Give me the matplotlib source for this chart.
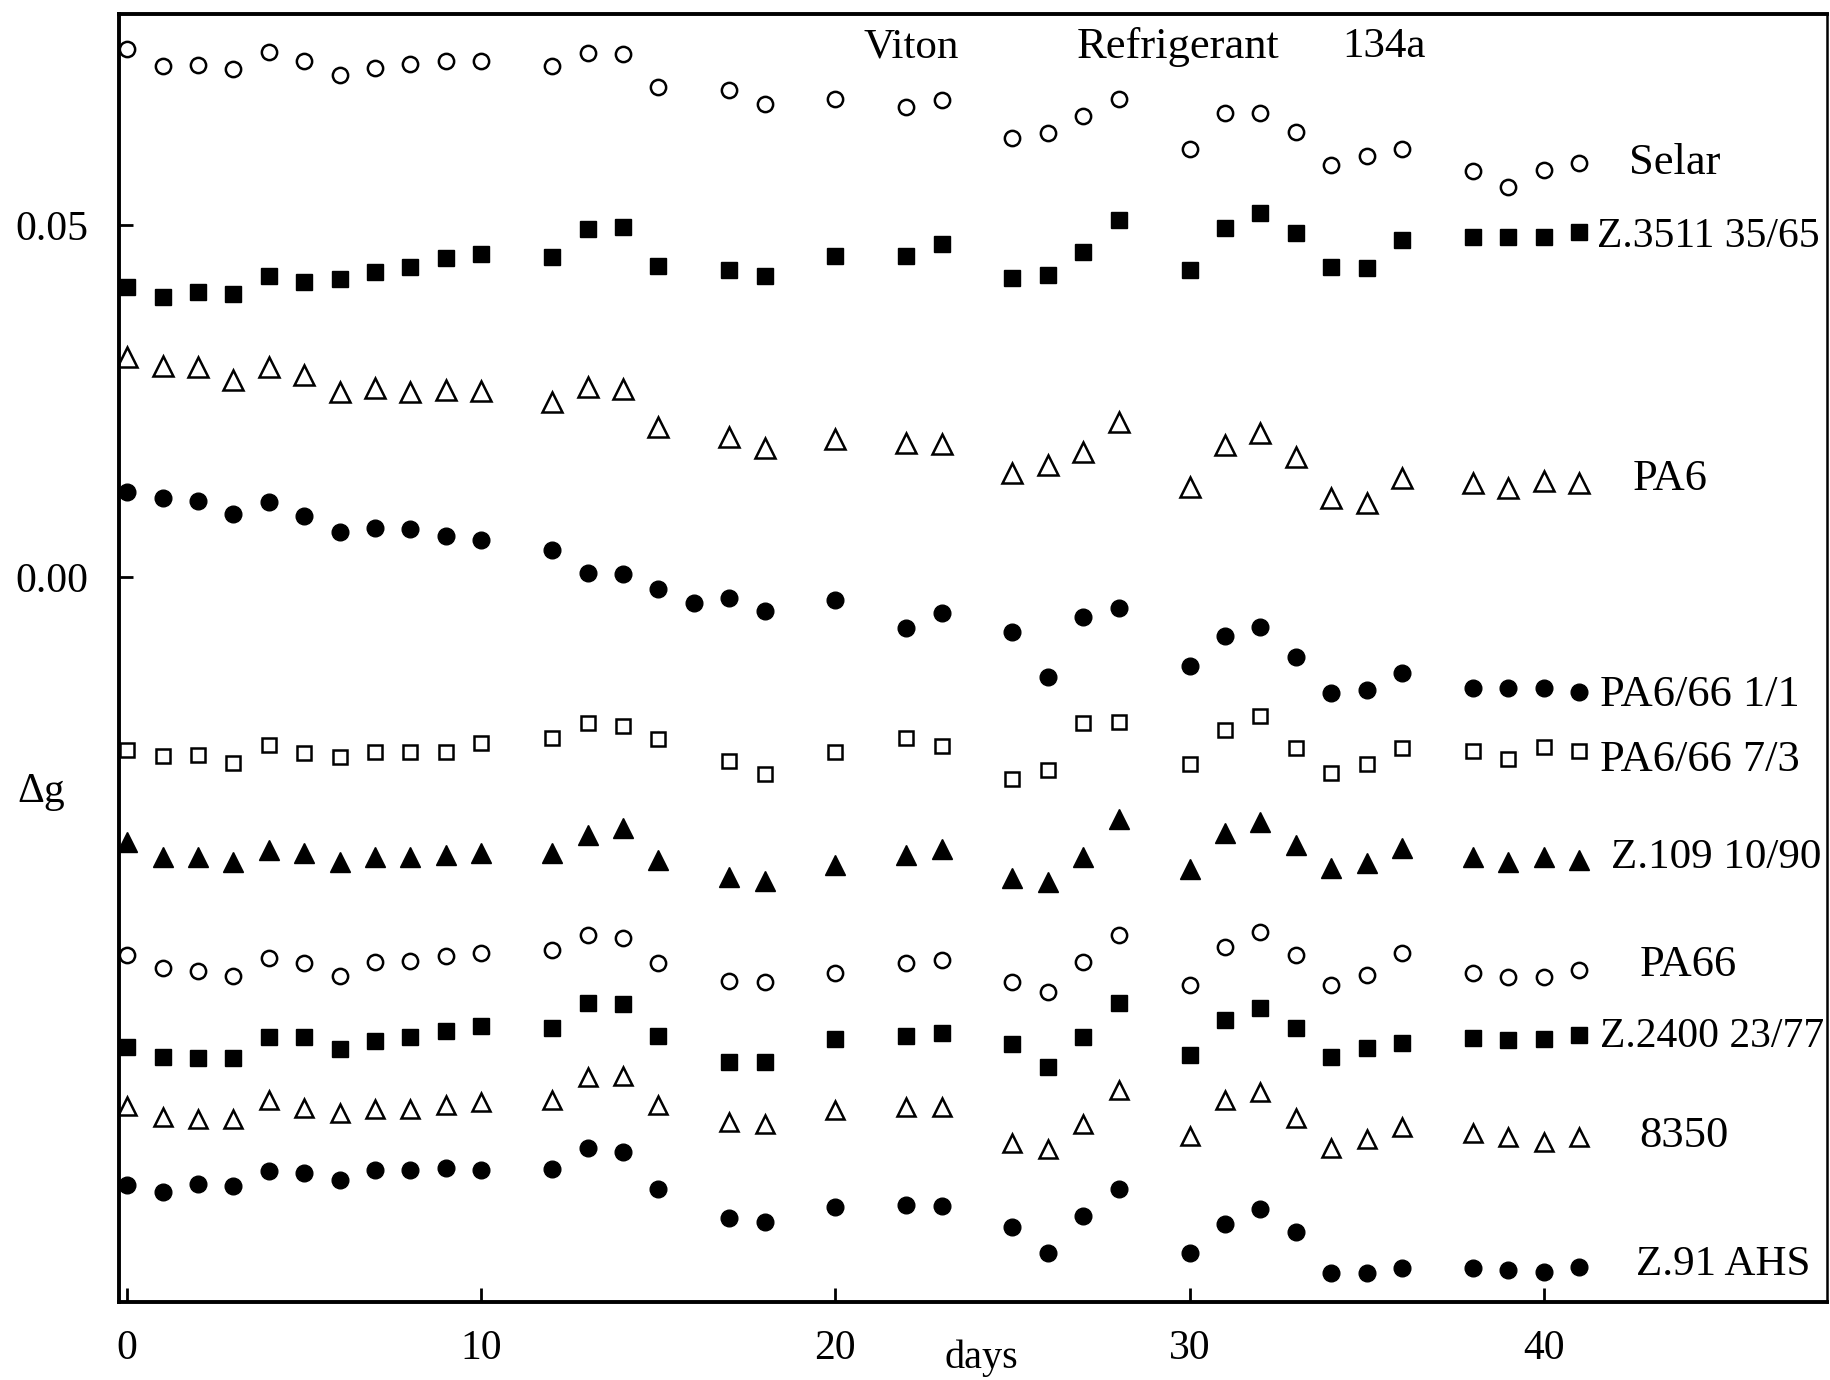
import matplotlib
matplotlib.use("Agg")
import matplotlib.pyplot as plt

plt.rcParams['font.family'] = ['Liberation Serif', 'DejaVu Serif']

# measurement days (PA6/66 1/1 has one extra reading on day 16)
days = [0, 1, 2, 3, 4, 5, 6, 7, 8, 9, 10, 12, 13, 14, 15, 17, 18, 20, 22, 23,
        25, 26, 27, 28, 30, 31, 32, 33, 34, 35, 36, 38, 39, 40, 41]
days_pa6661 = [0, 1, 2, 3, 4, 5, 6, 7, 8, 9, 10, 12, 13, 14, 15, 16, 17, 18, 20, 22, 23,
               25, 26, 27, 28, 30, 31, 32, 33, 34, 35, 36, 38, 39, 40, 41]

selar = [0.0751, 0.0726, 0.0727, 0.0722, 0.0746, 0.0734, 0.0714, 0.0723, 0.0729, 0.0733, 0.0733,
         0.0726, 0.0744, 0.0743, 0.0697, 0.0692, 0.0672, 0.0679, 0.0668, 0.0678,
         0.0624, 0.0631, 0.0655, 0.0680, 0.0609, 0.0659, 0.0659, 0.0632, 0.0585, 0.0599, 0.0609,
         0.0577, 0.0555, 0.0578, 0.0588]
z3511 = [0.0412, 0.0398, 0.0405, 0.0402, 0.0428, 0.0419, 0.0423, 0.0433, 0.0440, 0.0453, 0.0459,
         0.0455, 0.0494, 0.0497, 0.0442, 0.0437, 0.0428, 0.0456, 0.0456, 0.0474,
         0.0425, 0.0429, 0.0462, 0.0507, 0.0437, 0.0496, 0.0518, 0.0489, 0.0440, 0.0439, 0.0479,
         0.0483, 0.0483, 0.0483, 0.0491]
pa6 = [0.0313, 0.0300, 0.0298, 0.0280, 0.0298, 0.0287, 0.0263, 0.0268, 0.0263, 0.0266, 0.0264,
       0.0249, 0.0270, 0.0267, 0.0213, 0.0199, 0.0183, 0.0196, 0.0190, 0.0189,
       0.0148, 0.0159, 0.0178, 0.0220, 0.0128, 0.0188, 0.0205, 0.0170, 0.0112, 0.0105, 0.0141,
       0.0134, 0.0126, 0.0136, 0.0134]
pa6661 = [0.0121, 0.0112, 0.0108, 0.0089, 0.0107, 0.0087, 0.0064, 0.0070, 0.0068, 0.0058, 0.0053,
          0.0038, 0.0006, 0.0004, -0.0017, -0.0037, -0.0030, -0.0048, -0.0033, -0.0072, -0.0051,
          -0.0078, -0.0142, -0.0057, -0.0044, -0.0126, -0.0084, -0.0071, -0.0114, -0.0165, -0.0161, -0.0136,
          -0.0158, -0.0158, -0.0158, -0.0163]
pa6673 = [-0.0246, -0.0254, -0.0253, -0.0264, -0.0239, -0.0250, -0.0256, -0.0249, -0.0249, -0.0249, -0.0236,
          -0.0229, -0.0207, -0.0212, -0.0230, -0.0261, -0.0280, -0.0249, -0.0229, -0.0240,
          -0.0287, -0.0274, -0.0207, -0.0206, -0.0266, -0.0217, -0.0197, -0.0243, -0.0278, -0.0266, -0.0243,
          -0.0247, -0.0259, -0.0241, -0.0247]
z109 = [-0.0376, -0.0398, -0.0398, -0.0405, -0.0388, -0.0392, -0.0405, -0.0398, -0.0398, -0.0395, -0.0392,
        -0.0392, -0.0366, -0.0357, -0.0402, -0.0426, -0.0432, -0.0409, -0.0395, -0.0386,
        -0.0428, -0.0433, -0.0398, -0.0344, -0.0415, -0.0364, -0.0348, -0.0381, -0.0413, -0.0406, -0.0385,
        -0.0398, -0.0405, -0.0398, -0.0402]
pa66 = [-0.0537, -0.0555, -0.0560, -0.0567, -0.0541, -0.0548, -0.0567, -0.0547, -0.0545, -0.0538, -0.0534,
        -0.0530, -0.0509, -0.0513, -0.0548, -0.0574, -0.0575, -0.0563, -0.0548, -0.0544,
        -0.0575, -0.0589, -0.0547, -0.0509, -0.0580, -0.0526, -0.0504, -0.0537, -0.0580, -0.0565, -0.0534,
        -0.0563, -0.0568, -0.0568, -0.0558]
z2400 = [-0.0668, -0.0682, -0.0683, -0.0683, -0.0653, -0.0653, -0.0670, -0.0659, -0.0653, -0.0645, -0.0638,
         -0.0641, -0.0605, -0.0607, -0.0652, -0.0689, -0.0689, -0.0656, -0.0652, -0.0648,
         -0.0663, -0.0696, -0.0653, -0.0605, -0.0679, -0.0629, -0.0612, -0.0641, -0.0682, -0.0669, -0.0662,
         -0.0655, -0.0658, -0.0656, -0.0651]
s8350 = [-0.0751, -0.0767, -0.0770, -0.0770, -0.0743, -0.0754, -0.0761, -0.0756, -0.0756, -0.0750, -0.0746,
         -0.0743, -0.0710, -0.0709, -0.0750, -0.0774, -0.0777, -0.0757, -0.0753, -0.0753,
         -0.0804, -0.0813, -0.0777, -0.0729, -0.0794, -0.0743, -0.0732, -0.0768, -0.0811, -0.0798, -0.0781,
         -0.0790, -0.0795, -0.0803, -0.0795]
z91 = [-0.0864, -0.0874, -0.0862, -0.0865, -0.0844, -0.0847, -0.0857, -0.0842, -0.0842, -0.0839, -0.0842,
       -0.0841, -0.0811, -0.0817, -0.0869, -0.0911, -0.0916, -0.0895, -0.0892, -0.0893,
       -0.0923, -0.0960, -0.0908, -0.0869, -0.0960, -0.0919, -0.0898, -0.0930, -0.0989, -0.0989, -0.0982,
       -0.0982, -0.0984, -0.0987, -0.0980]

labels = ['Selar', 'Z.3511 35/65', 'PA6', 'PA6/66 1/1', 'PA6/66 7/3',
          'Z.109 10/90', 'PA66', 'Z.2400 23/77', '8350', 'Z.91 AHS']
label_x = [42.4, 41.5, 42.5, 41.6, 41.6, 41.9, 42.7, 41.6, 42.7, 42.6]
label_y = [0.0589, 0.0484, 0.0139, -0.0168, -0.0260, -0.0399, -0.0551, -0.0653, -0.0794, -0.0977]
label_size = [32, 30, 32, 32, 32, 31, 32, 30, 32, 31]

fig = plt.figure(figsize=(18.31, 13.80), dpi=100)
ax = fig.add_axes([0.0650, 0.0565, 0.9328, 0.9333])
ax.set_xlim(-0.23, 48.0)
ax.set_ylim(-0.103, 0.080)

open_kw = dict(ls='none', mfc='white', mec='black', mew=1.8)
fill_kw = dict(ls='none', color='black')

ax.plot(days, selar, marker='o', ms=11, **open_kw)
ax.plot(days, z3511, marker='s', ms=11, **fill_kw)
ax.plot(days, pa6, marker='^', ms=14, **open_kw)
ax.plot(days_pa6661, pa6661, marker='o', ms=12, **fill_kw)
ax.plot(days, pa6673, marker='s', ms=10, **open_kw)
ax.plot(days, z109, marker='^', ms=14, **fill_kw)
ax.plot(days, pa66, marker='o', ms=11, **open_kw)
ax.plot(days, z2400, marker='s', ms=11, **fill_kw)
ax.plot(days, s8350, marker='^', ms=13, **open_kw)
ax.plot(days, z91, marker='o', ms=12, **fill_kw)

for t, x, y, fs in zip(labels, label_x, label_y, label_size):
    ax.text(x, y, t, fontsize=fs, ha='left', va='center')

ax.text(20.8, 0.0753, 'Viton', fontsize=31, ha='left', va='center')
ax.text(26.8, 0.0753, 'Refrigerant', fontsize=32, ha='left', va='center')
ax.text(34.3, 0.0753, '134a', fontsize=31, ha='left', va='center')

ax.set_xticks([0, 10, 20, 30, 40])
ax.set_xticklabels(['0', '10', '20', '30', '40'])
ax.set_yticks([0.0, 0.05])
ax.set_yticklabels(['0.00', '0.05'])
ax.tick_params(direction='in', length=10, width=2, labelsize=30)
ax.tick_params(axis='x', pad=20)
ax.tick_params(axis='y', pad=22)

for s in ax.spines.values():
    s.set_linewidth(2.8)
ax.spines['right'].set_linewidth(1.8)

ax.set_xlabel('days', fontsize=29, va='center')
ax.xaxis.set_label_coords(0.505, -0.0435)
ax.set_ylabel('Δg', fontsize=30, rotation=0, ha='center', va='center')
ax.yaxis.set_label_coords(-0.0457, 0.396)

fig.savefig('out.png', dpi=100)
